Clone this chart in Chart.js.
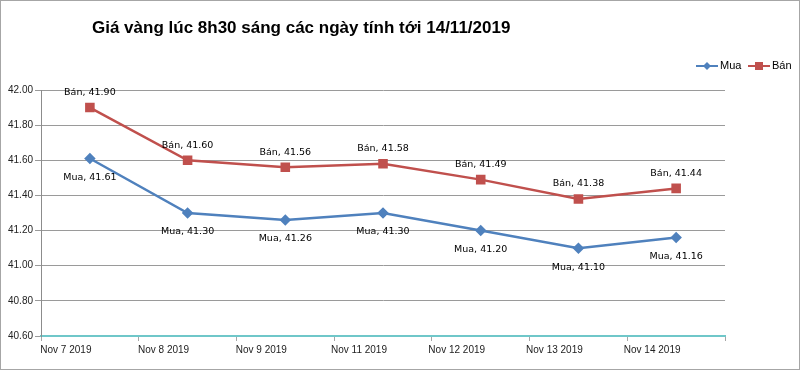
<!DOCTYPE html>
<html>
<head>
<meta charset="utf-8">
<script src="https://cdn.jsdelivr.net/npm/chart.js@4/dist/chart.umd.min.js"></script>
<style>
  html, body { margin: 0; padding: 0; background: #fff; }
  #wrap { position: relative; width: 798px; height: 368px; border: 1px solid #a6a6a6; }
</style>
</head>
<body>
<div id="wrap"><canvas id="goldChart" width="798" height="368"></canvas></div>
<script>
const titleText = 'Giá vàng lúc 8h30 sáng các ngày tính tới 14/11/2019';
const days = ['Nov 7 2019', 'Nov 8 2019', 'Nov 9 2019', 'Nov 11 2019', 'Nov 12 2019', 'Nov 13 2019', 'Nov 14 2019'];
const mua = [41.61, 41.30, 41.26, 41.30, 41.20, 41.10, 41.16];
const ban = [41.90, 41.60, 41.56, 41.58, 41.49, 41.38, 41.44];

const blue = '#4f81bd';
const red = '#c0504d';
const narrow = '"Liberation Sans", Arial, sans-serif';

// title, legend and "Mua, 41.61" style labels
const extras = {
  id: 'extras',
  afterDatasetsDraw(chart) {
    const c = chart.ctx;
    c.save();
    c.fillStyle = '#000';
    c.font = 'bold 17px ' + narrow;
    c.textAlign = 'left';
    c.textBaseline = 'middle';
    c.fillText(titleText, 91, 27);

    c.font = '9.5px "DejaVu Sans", sans-serif';
    c.textAlign = 'center';
    chart.data.datasets.forEach((ds, i) => {
      const meta = chart.getDatasetMeta(i);
      meta.data.forEach((pt, j) => {
        const txt = ds.label + ', ' + ds.data[j].toFixed(2);
        const dy = i === 0 ? 19 : -15;
        c.fillText(txt, pt.x, pt.y + dy);
      });
    });

    // legend
    const items = [
      { label: 'Mua', color: blue, shape: 'diamond', x: 695 },
      { label: 'Bán', color: red, shape: 'square', x: 747 }
    ];
    c.font = '11px ' + narrow;
    c.textAlign = 'left';
    items.forEach(it => {
      const y = 65;
      c.strokeStyle = it.color;
      c.lineWidth = 2;
      c.beginPath();
      c.moveTo(it.x, y);
      c.lineTo(it.x + 22, y);
      c.stroke();
      c.fillStyle = it.color;
      if (it.shape === 'square') {
        c.fillRect(it.x + 7, y - 4, 8, 8);
      } else {
        c.beginPath();
        c.moveTo(it.x + 11, y - 4);
        c.lineTo(it.x + 15, y);
        c.lineTo(it.x + 11, y + 4);
        c.lineTo(it.x + 7, y);
        c.closePath();
        c.fill();
      }
      c.fillStyle = '#000';
      c.fillText(it.label, it.x + 24, y);
    });
    c.restore();
  }
};

const ctx = document.getElementById('goldChart').getContext('2d');
new Chart(ctx, {
  type: 'line',
  data: {
    labels: days,
    datasets: [
      {
        label: 'Mua',
        data: mua,
        borderColor: blue,
        backgroundColor: blue,
        borderWidth: 2.5,
        pointStyle: 'rectRot',
        pointRadius: 4,
        pointHoverRadius: 4,
        tension: 0
      },
      {
        label: 'Bán',
        data: ban,
        borderColor: red,
        backgroundColor: red,
        borderWidth: 2.5,
        pointStyle: 'rect',
        pointRadius: 5,
        pointHoverRadius: 5,
        tension: 0
      }
    ]
  },
  options: {
    responsive: false,
    animation: false,
    events: [],
    layout: { padding: { top: 89, right: 74, left: 5, bottom: 10 } },
    plugins: {
      legend: { display: false },
      title: { display: false },
      tooltip: { enabled: false }
    },
    scales: {
      x: {
        offset: true,
        border: { color: '#6fc7c9', width: 2 },
        grid: { offset: true, drawOnChartArea: false, drawTicks: true, tickLength: 5, color: '#a6a6a6' },
        ticks: {
          color: '#222',
          font: { size: 10, family: narrow },
          labelOffset: -24,
          padding: 3
        }
      },
      y: {
        min: 40.6,
        max: 42,
        border: { color: '#8c8c8c', width: 1 },
        grid: { color: '#9a9a9a', tickLength: 6 },
        ticks: {
          stepSize: 0.2,
          color: '#222',
          font: { size: 10, family: narrow },
          padding: 2,
          callback: v => v.toFixed(2)
        }
      }
    }
  },
  plugins: [extras]
});
</script>
</body>
</html>
